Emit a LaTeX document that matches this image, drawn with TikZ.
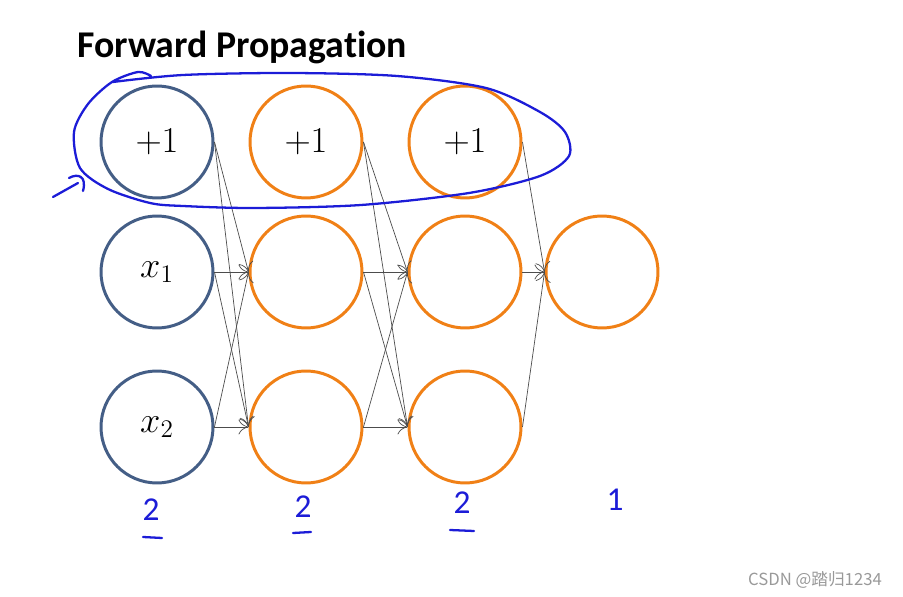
\documentclass[tikz,border=0pt]{standalone}
\usepackage{fontspec}
\newfontfamily\titlefont[Ligatures=NoCommon]{Carlito}
\newfontfamily\cjk{Noto Sans CJK SC}
\usetikzlibrary{arrows.meta}
\definecolor{inblue}{RGB}{68,94,134}
\definecolor{unitorange}{RGB}{240,128,22}
\definecolor{penblue}{RGB}{28,28,215}

\begin{document}
\begin{tikzpicture}[x=0.02cm, y=-0.02cm,
  input/.style={circle, draw=inblue, line width=1.7pt, minimum size=2.24cm, inner sep=0pt, font=\fontsize{22}{26}\selectfont},
  unit/.style={input, draw=unitorange},
  wire/.style={black!70, line width=0.4pt, -{To[length=2mm,width=3mm]}},
  pen/.style={penblue, line width=1.3pt, line cap=round, line join=round},
  size/.style={penblue, font=\titlefont\fontsize{19}{22}\selectfont}]
\useasboundingbox (0,0) rectangle (903,597);
% The title
\node[anchor=base west, font=\titlefont\bfseries\fontsize{21.5}{25}\selectfont] (title) at (71,58) {Forward Propagation};
% The units
\foreach \i/\y/\t in {0/142/{$+1$}, 1/272/{$x_1$}, 2/427/{$x_2$}}
  \node[input] (in\i) at (157,\y) {\t};
\foreach \i/\y/\t in {0/142/{$+1$}, 1/272/{}, 2/427/{}} {
  \node[unit] (hA\i) at (306,\y) {\t};
  \node[unit] (hB\i) at (465,\y) {\t};
}
\node[unit] (out) at (602,272) {};
% The weights
\foreach \i in {0,1,2} {
  \foreach \j in {1,2} {
    \draw[wire] (in\i.east) -- (hA\j.west);
    \draw[wire] (hA\i.east) -- (hB\j.west);
  }
  \draw[wire] (hB\i.east) -- (out.west);
}
% The pen marks
\draw[pen] plot[smooth] coordinates {(151,76) (138,72) (112,82) (88,104) (74,132) (80,168) (108,189) (150,203) (183,206) (254,208) (361,205) (469,193) (540,176) (569,156) (565,132) (540,112) (486,88) (397,76) (290,73) (183,75) (113,82)};
\draw[pen] (53,197) -- (78,183);
\draw[pen] (69,178) .. controls (78,173) and (87,176) .. (83,191);
\node[size] (sz1) at (151,510) {2};
\node[size] (sz2) at (303,507) {2};
\node[size] (sz3) at (462,503) {2};
\node[size] (sz4) at (615,500) {1};
\draw[pen] (143,537) -- (162,538);
\draw[pen] (293,533) -- (311,532);
\draw[pen] (450,530) -- (474,531);
% The mark
\node[anchor=east, gray!80, font=\cjk\fontsize{9.5}{12}\selectfont] (mark) at (888,580) {CSDN @踏归1234};
\end{tikzpicture}
\end{document}
